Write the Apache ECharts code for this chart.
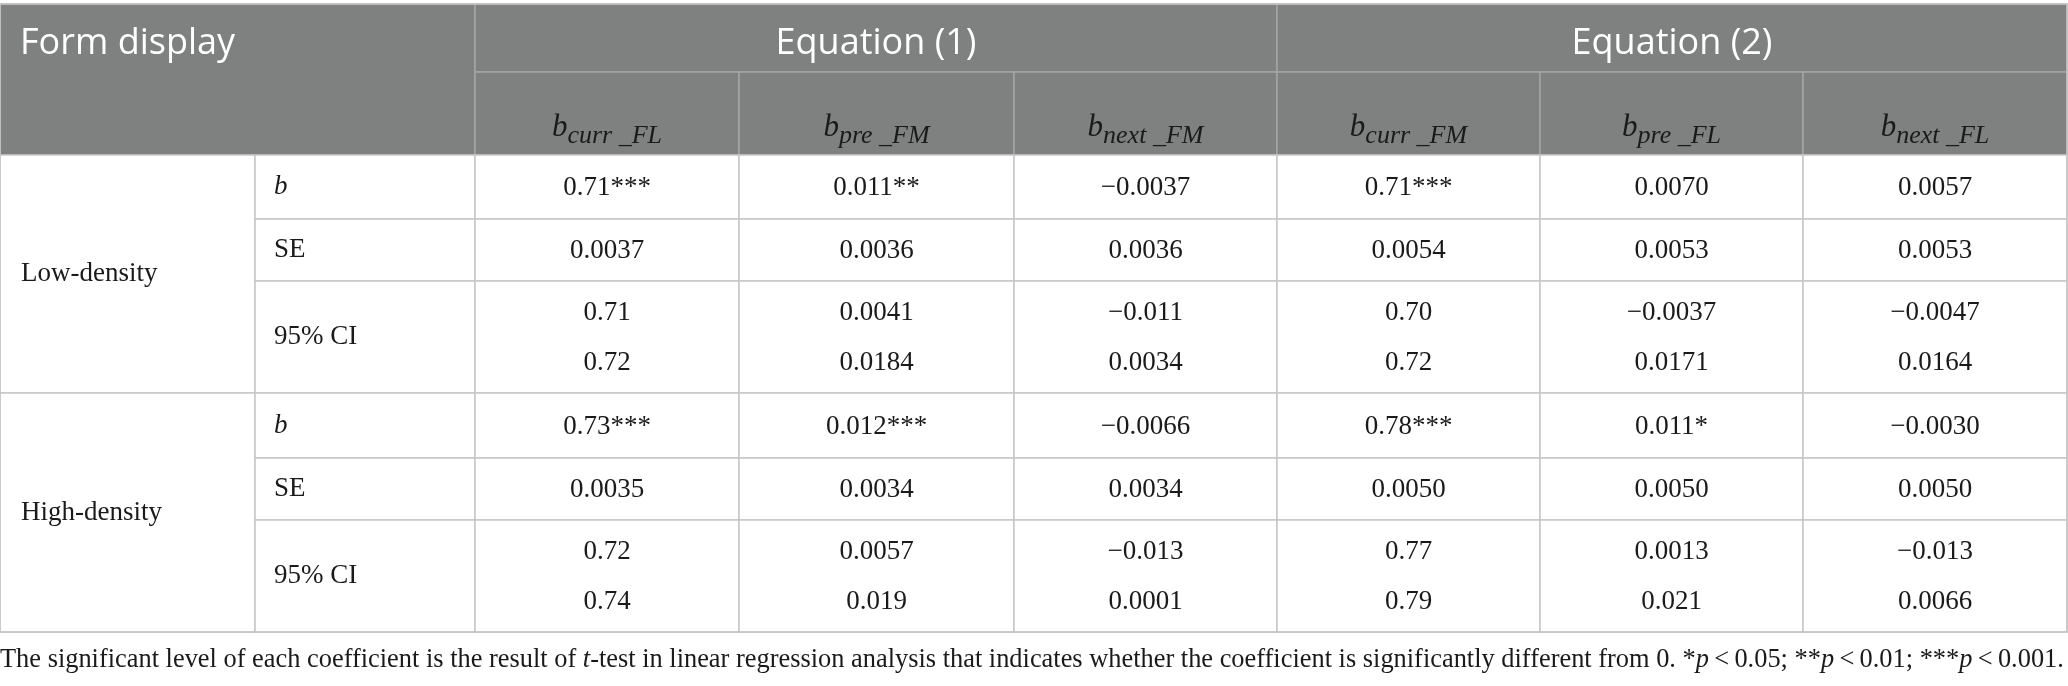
<!DOCTYPE html>
<html>
<head>
<meta charset="utf-8">
<script src="https://cdn.jsdelivr.net/npm/echarts@6/dist/echarts.min.js"></script>
<style>
html, body { margin: 0; padding: 0; background: #fff; }
#main { width: 2068px; height: 686px; }
</style>
</head>
<body>
<div id="main"></div>
<script>
// table content
var groups = ['Low-density', 'High-density'];
var statNames = ['b', 'SE', '95% CI'];
var equations = ['Equation (1)', 'Equation (2)'];
var coefSubs = ['curr _FL', 'pre _FM', 'next _FM', 'curr _FM', 'pre _FL', 'next _FL'];

var lowB = ['0.71***', '0.011**', '\u22120.0037', '0.71***', '0.0070', '0.0057'];
var lowSE = ['0.0037', '0.0036', '0.0036', '0.0054', '0.0053', '0.0053'];
var lowCILo = ['0.71', '0.0041', '\u22120.011', '0.70', '\u22120.0037', '\u22120.0047'];
var lowCIHi = ['0.72', '0.0184', '0.0034', '0.72', '0.0171', '0.0164'];

var highB = ['0.73***', '0.012***', '\u22120.0066', '0.78***', '0.011*', '\u22120.0030'];
var highSE = ['0.0035', '0.0034', '0.0034', '0.0050', '0.0050', '0.0050'];
var highCILo = ['0.72', '0.0057', '\u22120.013', '0.77', '0.0013', '\u22120.013'];
var highCIHi = ['0.74', '0.019', '0.0001', '0.79', '0.021', '0.0066'];

// layout (pixels)
var colW = [255, 220, 264, 275, 263, 263, 263, 264];
var rowH = [68, 83, 64, 62, 112, 65, 62, 112];
var colX = [0], rowY = [0];
colW.forEach(function (w, i) { colX.push(colX[i] + w); });
rowH.forEach(function (h, i) { rowY.push(rowY[i] + h); });

var headBg = '#7f8180', headLine = '#a3a5a4', bodyLine = '#c6c6c6', ink = '#1a1a1a';
var serif = '"Liberation Serif", "DejaVu Serif", serif';
var sans = '"Open Sans", "Noto Sans", sans-serif';

// build cells: col, row, colspan, rowspan, text, kind
var cells = [];
function cell(c, r, cs, rs, text, kind) {
	cells.push({ value: [c, r, cs, rs], text: text, kind: kind });
}
cell(0, 0, 2, 2, 'Form display', 'corner');
equations.forEach(function (t, i) { cell(2 + i * 3, 0, 3, 1, t, 'eq'); });
coefSubs.forEach(function (t, i) { cell(2 + i, 1, 1, 1, t, 'coef'); });

var blocks = [
	[lowB, lowSE, lowCILo, lowCIHi],
	[highB, highSE, highCILo, highCIHi]
];
blocks.forEach(function (bl, g) {
	var r0 = 2 + g * 3;
	cell(0, r0, 1, 3, groups[g], 'group');
	statNames.forEach(function (s, k) { cell(1, r0 + k, 1, 1, s, 'stat'); });
	for (var i = 0; i < 6; i++) {
		cell(2 + i, r0, 1, 1, bl[0][i], 'val');
		cell(2 + i, r0 + 1, 1, 1, bl[1][i], 'val');
		cell(2 + i, r0 + 2, 1, 1, bl[2][i] + '\n' + bl[3][i], 'val');
	}
});
cell(0, 0, 8, 8, '', 'frame');

function renderCell(params, api) {
	var c = cells[params.dataIndex];
	var v = c.value;
	var p0 = api.coord([colX[v[0]], rowY[v[1]]]);
	var p1 = api.coord([colX[v[0] + v[2]], rowY[v[1] + v[3]]]);
	var head = c.kind === 'corner' || c.kind === 'eq' || c.kind === 'coef';
	var children = [{
		type: 'rect',
		shape: { x: p0[0], y: p0[1], width: p1[0] - p0[0], height: p1[1] - p0[1] },
		style: {
			fill: c.kind === 'frame' ? 'none' : (head ? headBg : '#fff'),
			stroke: head ? headLine : bodyLine,
			lineWidth: 1.5
		}
	}];
	var cx = (p0[0] + p1[0]) / 2, cy = (p0[1] + p1[1]) / 2;
	var ts = null;
	if (c.kind === 'corner') {
		ts = { text: c.text, x: p0[0] + 20, y: p0[1] + 40, align: 'left', verticalAlign: 'middle',
			fontFamily: sans, fontSize: 36, fill: '#fff' };
	} else if (c.kind === 'eq') {
		ts = { text: c.text, x: cx, y: p0[1] + 40, align: 'center', verticalAlign: 'middle',
			fontFamily: sans, fontSize: 36, fill: '#fff' };
	} else if (c.kind === 'coef') {
		ts = { text: '{b|b}{s|' + c.text + '}', x: cx, y: p1[1] - 27, align: 'center', verticalAlign: 'middle',
			fill: ink, rich: {
				b: { fontFamily: serif, fontStyle: 'italic', fontSize: 31, lineHeight: 42, verticalAlign: 'middle', fill: ink },
				s: { fontFamily: serif, fontStyle: 'italic', fontSize: 26, lineHeight: 24, verticalAlign: 'bottom', fill: ink }
			} };
	} else if (c.kind === 'group') {
		ts = { text: c.text, x: p0[0] + 21, y: cy, align: 'left', verticalAlign: 'middle',
			fontFamily: serif, fontSize: 27, fill: ink };
	} else if (c.kind === 'stat') {
		ts = { text: c.text, x: p0[0] + 19, y: cy, align: 'left', verticalAlign: 'middle',
			fontFamily: serif, fontSize: 27, fontStyle: c.text === 'b' ? 'italic' : 'normal', fill: ink };
	} else if (c.kind === 'val') {
		ts = { text: c.text, x: cx, y: cy + 1, align: 'center', verticalAlign: 'middle',
			fontFamily: serif, fontSize: 27, lineHeight: 50, fill: ink };
	}
	if (ts) children.push({ type: 'text', style: ts });
	return { type: 'group', children: children };
}

var chart = echarts.init(document.getElementById('main'));
chart.setOption({
	animation: false,
	title: {
		left: 0,
		top: 647,
		padding: 0,
		text: '{n|The significant level of each coefficient is the result of }{i|t}{n|-test in linear regression analysis that indicates whether the coefficient is significantly different from 0. *}{i|p}{n|\u2009<\u20090.05; **}{i|p}{n|\u2009<\u20090.01; ***}{i|p}{n|\u2009<\u20090.001.}',
		textStyle: {
			fontWeight: 'normal',
			rich: {
				n: { fontFamily: serif, fontSize: 26.4, fontWeight: 'normal', color: ink },
				i: { fontFamily: serif, fontSize: 26.4, fontWeight: 'normal', color: ink, fontStyle: 'italic' }
			}
		}
	},
	grid: { left: 0, top: 4, width: colX[8], height: rowY[8] },
	xAxis: { type: 'value', min: 0, max: colX[8], show: false },
	yAxis: { type: 'value', min: 0, max: rowY[8], inverse: true, show: false },
	series: [{
		type: 'custom',
		clip: false,
		silent: true,
		renderItem: renderCell,
		data: cells
	}]
});
</script>
</body>
</html>
